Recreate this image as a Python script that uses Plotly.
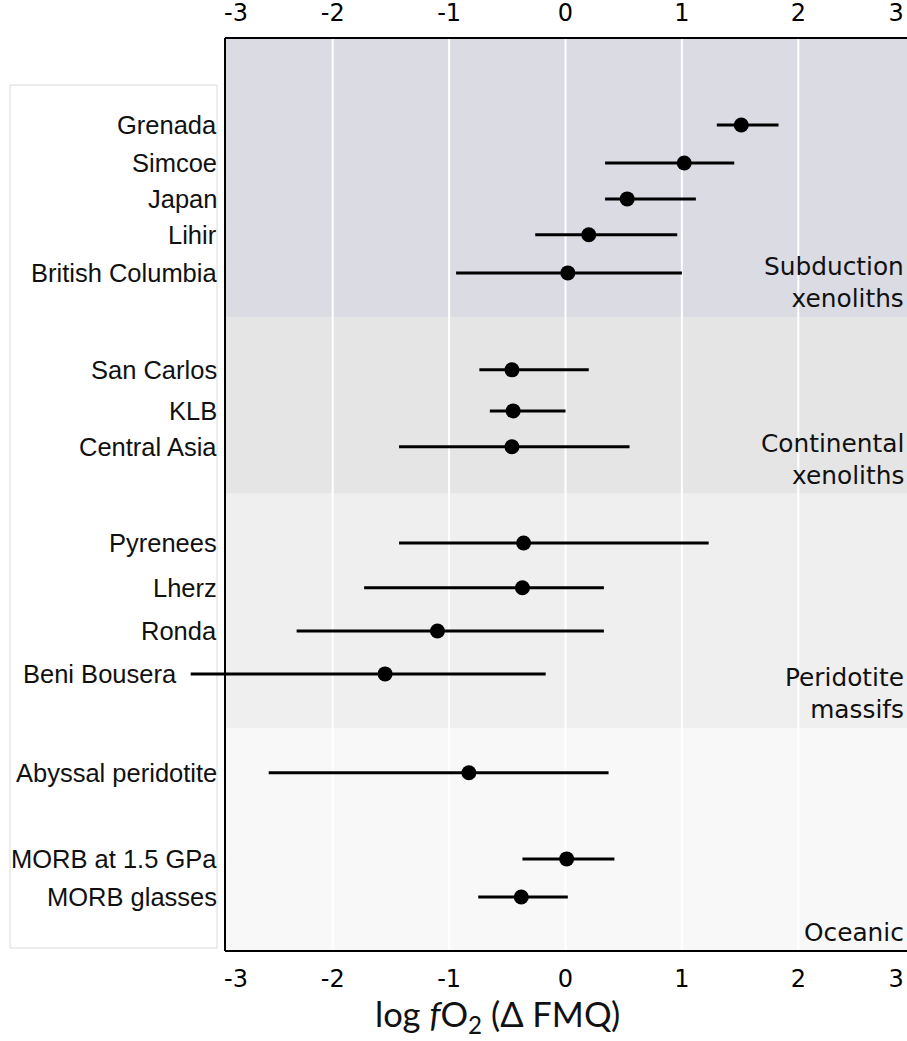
import plotly.graph_objects as go

# Oxygen fugacity estimates (log fO2 relative to FMQ) for mantle samples
sites = [
    "Grenada", "Simcoe", "Japan", "Lihir", "British Columbia",
    "San Carlos", "KLB", "Central Asia",
    "Pyrenees", "Lherz", "Ronda", "Beni Bousera",
    "Abyssal peridotite", "MORB at 1.5 GPa", "MORB glasses",
]
fo2_mean = [1.51, 1.02, 0.53, 0.20, 0.02,
            -0.46, -0.45, -0.46,
            -0.36, -0.37, -1.10, -1.55,
            -0.83, 0.01, -0.38]
fo2_low = [1.30, 0.34, 0.34, -0.26, -0.94,
           -0.74, -0.65, -1.43,
           -1.43, -1.73, -2.31, -3.22,
           -2.55, -0.37, -0.75]
fo2_high = [1.83, 1.45, 1.12, 0.96, 1.00,
            0.20, 0.00, 0.55,
            1.23, 0.33, 0.33, -0.17,
            0.37, 0.42, 0.02]

# vertical slot of each row (top = 0)
row_slot = [2.35, 3.38, 4.35, 5.32, 6.35,
            8.97, 10.08, 11.05,
            13.65, 14.86, 16.03, 17.19,
            19.86, 22.19, 23.22]

group_labels = ["Subduction<br>xenoliths", "Continental<br>xenoliths",
                "Peridotite<br>massifs", "Oceanic"]
group_top = [0.0, 7.54, 12.32, 18.65]
group_bottom = [7.54, 12.32, 18.65, 24.68]
group_colors = ["#dbdbe3", "#e5e5e5", "#efefef", "#f8f8f8"]

grid_values = [-2, -1, 0, 1, 2]
tick_values = [-2.83, -2, -1, 0, 1, 2, 2.84]
tick_labels = ["-3", "-2", "-1", "0", "1", "2", "3"]

# ---- page geometry -------------------------------------------------------
W, H = 907, 1041
M_T, M_B = 38, 90
ZERO_PX, UNIT_PX = 565.5, 116.4          # horizontal scale of the panel
AXIS_LEFT_PX, FRAME_LEFT_PX = 185, 225


def px_to_val(px):
    return (px - ZERO_PX) / UNIT_PX


def val_to_px(v):
    return ZERO_PX + v * UNIT_PX


X_MIN, X_MAX = px_to_val(AXIS_LEFT_PX), px_to_val(W)
FRAME_LEFT = px_to_val(FRAME_LEFT_PX)
Y_BOTTOM = group_bottom[-1]


def paper_y(py):
    return (H - M_B - py) / (H - M_T - M_B)


fig = go.Figure()

fig.add_trace(go.Scatter(
    x=fo2_mean, y=row_slot, mode="markers",
    marker=dict(size=15, color="black"),
    error_x=dict(type="data", symmetric=False,
                 array=[h - m for h, m in zip(fo2_high, fo2_mean)],
                 arrayminus=[m - l for m, l in zip(fo2_mean, fo2_low)],
                 color="black", thickness=3, width=0),
    cliponaxis=False, showlegend=False, hoverinfo="skip",
))
# carrier for the mirrored top axis
fig.add_trace(go.Scatter(x=[0], y=[0], xaxis="x2", mode="markers",
                         marker=dict(opacity=0), showlegend=False,
                         hoverinfo="skip"))

shapes = []
# white box behind the row labels
shapes.append(dict(type="rect", xref="paper", yref="paper",
                   x0=10 / W, x1=217 / W, y0=paper_y(948), y1=paper_y(85),
                   fillcolor="white", line=dict(color="#dadada", width=1),
                   layer="below"))
# group bands
for y0, y1, c in zip(group_top, group_bottom, group_colors):
    shapes.append(dict(type="rect", xref="x", yref="y",
                       x0=FRAME_LEFT, x1=X_MAX, y0=y0, y1=y1,
                       fillcolor=c, line=dict(width=0), layer="below"))
# vertical grid
for g in grid_values:
    shapes.append(dict(type="line", xref="x", yref="y", x0=g, x1=g,
                       y0=0, y1=Y_BOTTOM,
                       line=dict(color="white", width=2), layer="below"))
# panel frame
fx = FRAME_LEFT_PX / W
shapes += [
    dict(type="line", xref="paper", yref="paper", x0=fx, x1=fx, y0=0, y1=1,
         line=dict(color="black", width=2)),
    dict(type="line", xref="paper", yref="paper", x0=fx, x1=1, y0=1, y1=1,
         line=dict(color="black", width=2)),
    dict(type="line", xref="paper", yref="paper", x0=fx, x1=1, y0=0, y1=0,
         line=dict(color="black", width=2)),
]

annotations = []
for name, y, lo in zip(sites, row_slot, fo2_low):
    right_px = 219 if lo >= FRAME_LEFT else val_to_px(lo) - 12
    annotations.append(dict(
        text=name, xref="paper", yref="y", x=right_px / W, y=y,
        xanchor="right", yanchor="middle", showarrow=False,
        font=dict(family="Liberation Sans, Arial, sans-serif", size=25.5,
                  color="#111111")))
for label, yb in zip(group_labels, group_bottom):
    annotations.append(dict(
        text=label, xref="paper", yref="y", x=1, y=yb,
        xanchor="right", yanchor="bottom", xshift=-1, yshift=2,
        align="right", showarrow=False,
        font=dict(family="DejaVu Sans", size=24.8, color="#111111")))
annotations.append(dict(
    text="log <i>f</i>O<sub>2</sub> (Δ FMQ)", xref="paper", yref="paper",
    x=497 / W, y=paper_y(1016), xanchor="center", yanchor="middle",
    showarrow=False, font=dict(family="Lato, Open Sans, sans-serif",
                               size=34.5, color="#111111")))

tick_axis = dict(
    range=[X_MIN, X_MAX], tickmode="array", tickvals=tick_values,
    ticktext=tick_labels, showgrid=False, zeroline=False, showline=False,
    ticks="outside", ticklen=6, tickcolor="rgba(0,0,0,0)",
    ticklabeloverflow="allow",
    tickfont=dict(family="DejaVu Sans", size=24, color="black"),
    fixedrange=True,
)

fig.update_layout(
    width=W, height=H,
    margin=dict(l=0, r=0, t=M_T, b=M_B),
    paper_bgcolor="white", plot_bgcolor="rgba(0,0,0,0)",
    xaxis=dict(domain=[AXIS_LEFT_PX / W, 1], anchor="y", side="bottom",
               **tick_axis),
    xaxis2=dict(overlaying="x", matches="x", anchor="y", side="top",
                **tick_axis),
    yaxis=dict(range=[Y_BOTTOM, 0], domain=[0, 1], visible=False,
               fixedrange=True),
    shapes=shapes, annotations=annotations,
)

fig.write_html("out.html")
